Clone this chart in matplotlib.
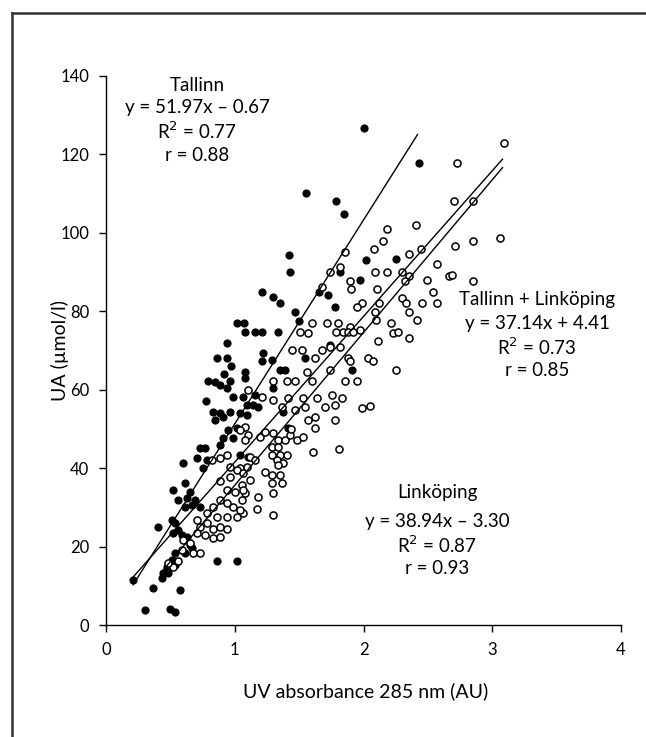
import matplotlib
matplotlib.use("Agg")
import matplotlib.pyplot as plt
from matplotlib.lines import Line2D
import numpy as np

plt.rcParams['font.family'] = ['Lato', 'DejaVu Sans']

# Tallinn (filled circles)
tallinn_x = [2.00, 1.553, 1.784, 1.849, 1.424, 1.429, 2.02, 1.817, 1.973, 1.209, 1.30, 1.657, 1.727, 2.434, 2.252,
             1.351, 1.468, 1.779, 1.02, 1.07, 1.08, 1.157, 1.209, 1.338, 1.501, 1.222, 1.209, 1.287, 1.546, 1.351,
             1.39, 1.74, 1.908, 1.08, 1.08, 1.30, 1.067, 1.157, 1.093, 1.144, 1.183, 1.04, 1.093, 1.377, 1.416,
             1.04, 1.105,
             0.795, 0.885, 0.963, 0.937, 0.989, 0.834, 0.885, 0.846, 0.963, 0.911, 0.95, 1.015, 0.911, 0.989,
             0.885, 0.73, 0.769, 0.704, 0.782, 0.60, 0.756, 0.523, 0.614, 0.652, 0.627, 0.691, 0.665, 0.73,
             0.614, 0.562, 0.51, 0.536, 0.406, 0.562, 0.523, 0.588, 0.627, 0.652, 0.665, 0.614, 0.86, 1.015,
             0.536, 0.51, 0.536, 0.471, 0.445, 0.484, 0.433, 0.212, 0.367, 0.575, 0.303, 0.497, 0.536,
             0.94, 0.86, 0.94, 0.97, 0.78, 0.85, 0.92]
tallinn_y = [126.7, 110.1, 108.1, 104.7, 94.4, 90.1, 93.1, 90.1, 88.0, 85.0, 83.7, 85.0, 84.2, 117.9, 93.3,
             82.2, 79.9, 81.2, 77.0, 77.0, 74.8, 74.8, 74.8, 74.8, 77.4, 69.3, 67.2, 67.6, 68.0, 65.0,
             65.0, 71.4, 65.0, 64.6, 62.9, 60.4, 58.2, 58.7, 56.1, 56.1, 55.7, 54.0, 53.6, 54.4, 50.2,
             43.4, 42.9,
             62.1, 61.2, 62.1, 60.4, 58.2, 54.4, 54.0, 52.3, 54.4, 53.1, 49.7, 50.2, 47.6, 47.6,
             45.9, 45.1, 45.1, 42.5, 42.1, 41.2, 40.0, 34.4, 36.1, 34.0, 32.3, 31.9, 30.6, 30.2,
             30.2, 31.9, 26.8, 25.9, 25.1, 24.2, 23.4, 23.0, 22.5, 20.4, 19.6, 18.3, 16.2, 16.2,
             18.3, 16.6, 15.3, 14.9, 13.2, 13.2, 11.9, 11.5, 9.4, 8.9, 3.8, 4.2, 3.4,
             72.0, 68.0, 68.0, 66.0, 57.0, 62.0, 64.0]

# Linköping (open circles)
linkoping_x = [1.856, 1.817, 1.74, 2.084, 2.09, 1.895, 1.90, 2.107, 1.675,
               2.724, 3.09, 2.703, 2.848, 2.408, 2.18, 2.148, 2.711, 2.848, 3.06, 2.447, 2.356, 2.18, 2.297,
               2.356, 2.322, 2.573, 2.667, 2.49, 2.853, 2.542, 2.573, 2.452, 2.297, 2.33, 2.356, 2.123, 1.986,
               2.09, 2.095, 2.418, 2.211, 2.227, 2.27, 2.115, 2.356, 2.037, 2.076, 2.252, 2.05, 1.986, 1.97, 2.685,
               1.947, 1.598, 1.572, 1.714, 1.805, 1.895, 1.79, 1.84, 1.88, 1.92, 1.507, 1.442, 1.519, 1.675,
               1.74, 1.817, 1.623, 1.882, 1.895, 1.74, 1.30, 1.403, 1.468, 1.856, 1.947, 1.558, 1.597, 1.209,
               1.30, 1.416, 1.533, 1.637, 1.753, 1.83, 1.70, 1.779, 1.365, 1.468, 1.546, 1.572, 1.623, 1.779,
               1.623, 1.08, 1.105, 1.08, 1.196, 1.235, 1.30, 1.338, 1.39, 1.429, 1.435, 1.481, 1.533, 1.287,
               1.338, 1.61, 1.812, 1.118, 1.157, 1.287, 1.351, 1.403, 1.326, 1.377, 1.338, 1.093, 1.04, 1.235,
               1.287, 1.351, 1.287, 1.365, 1.054, 1.118, 1.30, 1.08, 1.054, 1.183, 1.17, 1.30, 1.067,
               1.04, 0.82, 0.885, 0.937, 0.963, 1.015, 1.067, 0.963, 0.885, 0.937, 1.002, 1.067, 0.885, 0.937,
               0.989, 1.04, 0.834, 0.782, 0.86, 0.937, 1.015, 0.704, 0.782, 0.73, 0.834, 0.885, 0.704, 0.769,
               0.834, 0.885, 0.937, 0.60, 0.652, 0.588, 0.678, 0.73, 0.562, 0.523, 0.484, 1.105]
linkoping_y = [95.0, 91.4, 90.1, 96.0, 90.1, 87.6, 85.8, 85.8, 86.3,
               117.7, 122.8, 108.0, 108.0, 102.0, 100.9, 98.0, 96.7, 97.8, 98.8, 95.9, 94.6, 89.9, 90.1,
               89.0, 87.8, 92.0, 89.0, 88.0, 87.8, 84.8, 82.0, 82.0, 83.3, 82.0, 79.9, 82.0, 82.2,
               79.9, 77.8, 77.8, 76.9, 74.4, 74.8, 72.3, 73.1, 68.0, 67.2, 65.0, 55.9, 55.3, 75.2, 89.3,
               81.2, 76.9, 74.4, 76.9, 76.9, 76.1, 74.8, 74.8, 74.8, 74.8, 74.8, 70.1, 70.1, 70.1,
               71.0, 71.0, 68.0, 68.0, 67.2, 65.0, 62.1, 62.1, 62.1, 62.1, 62.1, 64.6, 62.1, 58.2,
               57.4, 57.8, 57.8, 57.8, 58.7, 57.8, 55.7, 56.1, 55.7, 54.8, 55.7, 52.3, 53.1, 52.3,
               50.2, 50.6, 48.5, 47.2, 48.0, 49.3, 48.9, 47.2, 47.2, 48.5, 50.0, 47.2, 48.0, 45.5,
               45.5, 44.2, 44.9, 42.9, 42.1, 43.4, 43.4, 43.4, 42.1, 41.2, 40.8, 40.4, 40.0, 39.1,
               38.3, 38.3, 36.1, 36.1, 35.7, 37.0, 33.6, 33.6, 31.9, 32.7, 29.7, 28.1, 28.5,
               49.7, 42.1, 42.5, 43.4, 40.4, 39.5, 38.7, 37.8, 36.6, 34.4, 34.0, 34.4, 31.9, 31.0,
               30.2, 29.3, 30.2, 28.5, 27.6, 27.6, 27.6, 26.8, 25.9, 25.1, 24.6, 25.1, 23.4, 23.0,
               22.1, 22.5, 24.6, 21.7, 20.8, 19.1, 18.3, 18.3, 16.2, 14.9, 15.8, 59.9]

# Regression lines: (slope, intercept, x_start, x_end)
fits = {
    'Tallinn': (51.97, -0.67, 0.21, 2.42),
    'Tallinn + Linköping': (37.14, 4.41, 0.21, 3.08),
    'Linköping': (38.94, -3.30, 0.45, 3.08),
}

# Annotation blocks: (lines, x centre, y of each line)
annotations = [
    (['Tallinn', 'y = 51.97x – 0.67', 'R$^2$ = 0.77', 'r = 0.88'], 0.707, [137.7, 131.9, 126.0, 119.6]),
    (['Tallinn + Linköping', 'y = 37.14x + 4.41', 'R$^2$ = 0.73', 'r = 0.85'], 3.348, [82.9, 76.8, 70.9, 65.0]),
    (['Linköping', 'y = 38.94x – 3.30', 'R$^2$ = 0.87', 'r = 0.93'], 2.571, [33.7, 26.3, 20.4, 14.3]),
]

x_ticks = [0, 1, 2, 3, 4]
y_ticks = [0, 20, 40, 60, 80, 100, 120, 140]

W, H = 646, 737
fig = plt.figure(figsize=(W / 100, H / 100), dpi=100)
ax = fig.add_axes([106 / W, 1 - 625 / H, (621 - 106) / W, (625 - 76) / H])

ax.scatter(tallinn_x, tallinn_y, s=26, c='black', edgecolors='black', linewidths=0.8, zorder=2)
ax.scatter(linkoping_x, linkoping_y, s=26, facecolors='white', edgecolors='black', linewidths=1.1, zorder=2)

for name, (m, b, x0, x1) in fits.items():
    xs = np.array([x0, x1])
    ax.plot(xs, m * xs + b, color='black', lw=1.0, zorder=3)

ax.set_xlim(0, 4)
ax.set_ylim(0, 140)
ax.set_xticks(x_ticks)
ax.set_yticks(y_ticks)
ax.tick_params(direction='out', length=5, width=1, labelsize=12, pad=7, colors='black')
for s in ['top', 'right']:
    ax.spines[s].set_visible(False)
for s in ['left', 'bottom']:
    ax.spines[s].set_linewidth(1.0)

ax.set_xlabel('UV absorbance 285 nm (AU)', fontsize=14)
ax.set_ylabel('UA (µmol/l)', fontsize=14)
ax.xaxis.set_label_coords(0.505, -0.104)
ax.yaxis.set_label_coords(-0.072, 0.5)

for lines, xc, ys in annotations:
    for txt, yy in zip(lines, ys):
        ax.text(xc, yy, txt, ha='center', va='center', fontsize=13.5)

# scanned page frame
fig.add_artist(Line2D([12 / W, 12 / W], [0, 1 - 13 / H], transform=fig.transFigure, color='#333333', lw=1.8))
fig.add_artist(Line2D([12 / W, 0.999], [1 - 13 / H, 1 - 13 / H], transform=fig.transFigure, color='#333333', lw=1.8))

fig.savefig('out.png', dpi=100)
